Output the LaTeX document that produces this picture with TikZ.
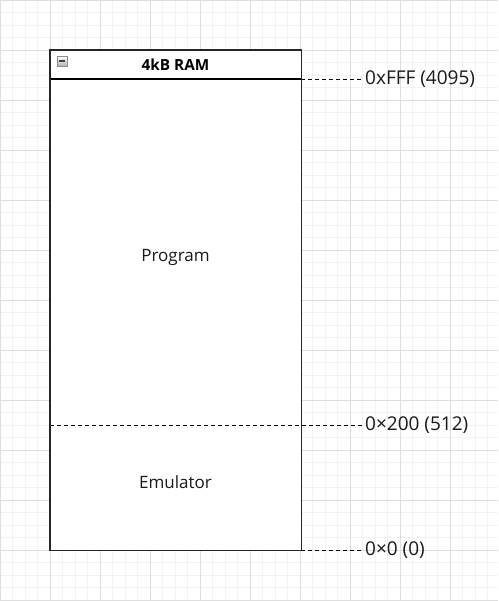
\documentclass[tikz,border=0pt]{standalone}
\usepackage{fontspec}
\setmainfont{Open Sans}
\begin{document}
\begin{tikzpicture}[x=1pt,y=-1pt,
  minorgrid/.style={draw=black!5,line width=0.8pt},
  majorgrid/.style={draw=black!13,line width=0.8pt},
  frame/.style={draw=black!85,line width=1.3pt},
  divider/.style={draw=black,line width=0.9pt,dash pattern=on 3.5pt off 3.5pt},
  addr/.style={anchor=west,inner sep=3pt,font=\fontsize{19}{22}\selectfont,text=black!90},
  region/.style={font=\fontsize{17}{20}\selectfont,text=black!90},
  title/.style={font=\bfseries\fontsize{15.3}{18}\selectfont}]
  % canvas and background grid
  \useasboundingbox (0,0) rectangle (498,601);
  \fill[white] (0,0) rectangle (498,601);
  \foreach \i in {0,...,48} {
    \draw[minorgrid] (\i*12.5,0) -- (\i*12.5,601);
    \draw[minorgrid] (0,\i*12.5) -- (498,\i*12.5);
  }
  \foreach \i in {0,...,12} {
    \draw[majorgrid] (\i*50,0) -- (\i*50,601);
    \draw[majorgrid] (0,\i*50) -- (498,\i*50);
  }
  % memory container
  \node[draw=none,fill=white,minimum width=251pt,minimum height=500pt,inner sep=0pt,anchor=north west] (ram) at (50,50) {};
  \node[title] (ramtitle) at (175.5,65) {4kB RAM};
  % collapse button
  \node[draw=black!45,line width=0.6pt,top color=white,bottom color=black!30,minimum size=10pt,inner sep=0pt] (toggle) at (62,61) {};
  \draw[black!75,line width=1.4pt] ([xshift=-2.6pt]toggle.center) -- ([xshift=2.6pt]toggle.center);
  % address markers
  \coordinate (topL) at (50,79);
  \coordinate (topR) at (301,79);
  \coordinate (midL) at (50,425);
  \coordinate (botR) at (301,550);
  \node[addr] (aFFF) at (362,79) {0xFFF (4095)};
  \node[addr] (a200) at (362,425) {0×200 (512)};
  \node[addr] (a000) at (362,550) {0×0 (0)};
  \draw[divider] (topR) -- (aFFF.west);
  \draw[divider] (midL) -- (a200.west);
  \draw[divider] (botR) -- (a000.west);
  \draw[black,line width=1.1pt] ([xshift=-1pt]topL) -- (topR);
  \draw[frame] (ram.north west) rectangle (ram.south east);
  % regions
  \node[region] (program) at (175.5,257) {Program};
  \node[region] (emulator) at (175.5,482) {Emulator};
\end{tikzpicture}
\end{document}
